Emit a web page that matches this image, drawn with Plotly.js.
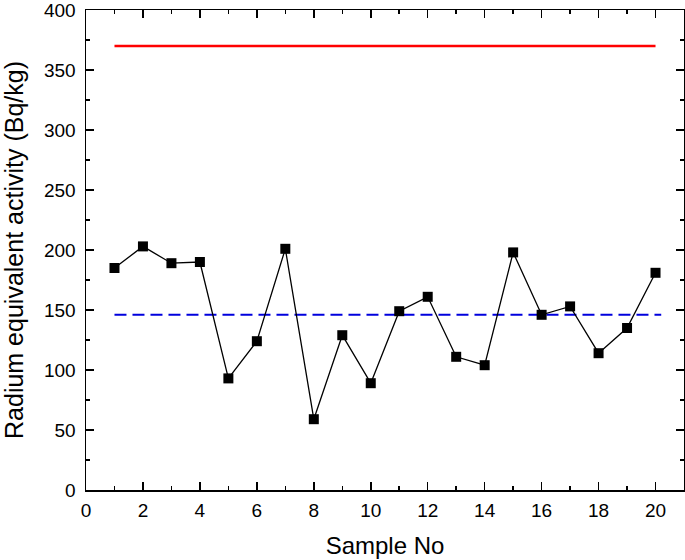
<!DOCTYPE html>
<html>
<head>
<meta charset="utf-8">
<script src="https://cdn.plot.ly/plotly-3.0.1.min.js"></script>
<style>html,body{margin:0;padding:0;background:#fff;}#chart{width:685px;height:560px;}</style>
</head>
<body>
<div id="chart"></div>
<script>
const sampleNo = [1,2,3,4,5,6,7,8,9,10,11,12,13,14,15,16,17,18,19,20];
const raEq = [185,203,189,190,93,124,201,59,129,89,149,161,111,104,198,146,153,114,135,181];
const limitX = [1,20];
const limitY = [370,370];
const meanX = [1,20.2];
const meanY = [146,146];

const traces = [
  {x: limitX, y: limitY, mode:'lines', line:{color:'#ff0000', width:2.5}, showlegend:false, hoverinfo:'skip'},
  {x: meanX, y: meanY, mode:'lines', line:{color:'#0000dd', width:2, dash:'12px,6px'}, showlegend:false, hoverinfo:'skip'},
  {x: sampleNo, y: raEq, mode:'lines+markers', line:{color:'#000', width:1.3},
   marker:{symbol:'square', size:10, color:'#000'}, showlegend:false}
];

const FONT = 'Liberation Sans, Arial, sans-serif';
const axisCommon = {
  showgrid:false, zeroline:false, showline:true, linecolor:'#000', linewidth:1.5,
  mirror:'allticks', ticks:'inside', ticklen:8, tickwidth:1.5, tickcolor:'#000',
  ticklabeloverflow:'allow',
  tickfont:{family:FONT, size:19, color:'#000'}
};

const layout = {
  width:685, height:560,
  margin:{l:86, r:1, t:10, b:70},
  paper_bgcolor:'#fff', plot_bgcolor:'#fff',
  xaxis: Object.assign({}, axisCommon, {
    range:[0,21], dtick:2, tick0:0, ticklabelstandoff:3,
    minor:{ticks:'inside', ticklen:4, dtick:1, tickwidth:1.5, tickcolor:'#000', showgrid:false},
    title:{text:'Sample No', font:{family:FONT, size:24, color:'#000'}, standoff:17}
  }),
  yaxis: Object.assign({}, axisCommon, {
    range:[0,400], dtick:50, tick0:0, ticklabelstandoff:5,
    minor:{ticks:'inside', ticklen:4, dtick:25, tickwidth:1.5, tickcolor:'#000', showgrid:false},
    title:{text:'Radium equivalent activity (Bq/kg)', font:{family:FONT, size:25, color:'#000'}, standoff:15}
  })
};

Plotly.newPlot('chart', traces, layout, {displayModeBar:false, staticPlot:true});
</script>
</body>
</html>
